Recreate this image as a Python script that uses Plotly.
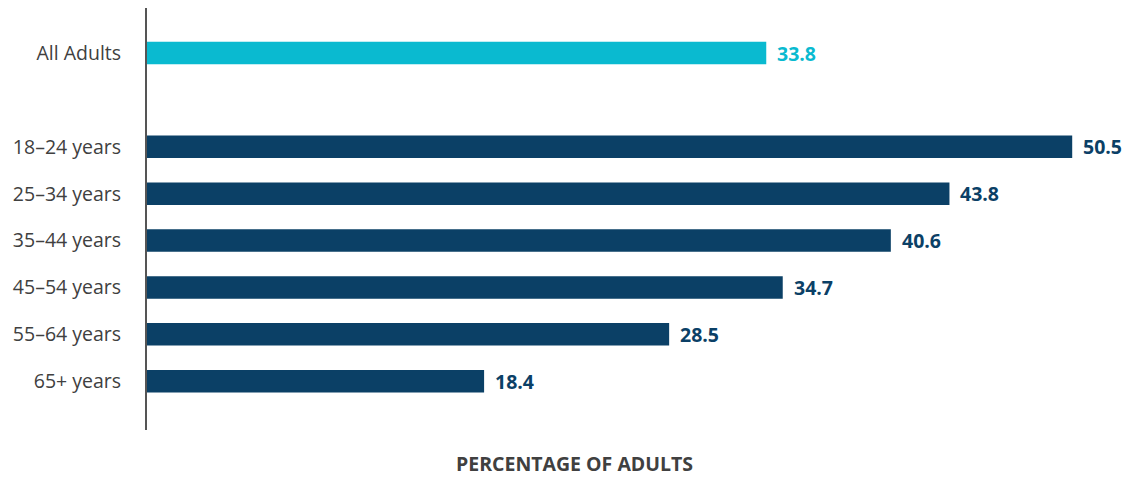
import plotly.graph_objects as go

# Share of adults by age group
categories = ["All Adults", " ", "18–24 years", "25–34 years", "35–44 years",
              "45–54 years", "55–64 years", "65+ years"]
values = [33.8, None, 50.5, 43.8, 40.6, 34.7, 28.5, 18.4]

TEAL = "#0ABAD0"
NAVY = "#0B4066"
bar_colors = [TEAL, TEAL] + [NAVY] * 6

FONT = "Open Sans, sans-serif"

fig = go.Figure(
    go.Bar(
        x=values,
        y=categories,
        orientation="h",
        marker=dict(color=bar_colors, line=dict(width=0)),
        width=0.48,
        hoverinfo="skip",
    )
)

# value labels just past the end of each bar
for cat, val, col in zip(categories, values, bar_colors):
    if val is None:
        continue
    fig.add_annotation(
        x=val, y=cat, text=f"<b>{val:.1f}</b>", showarrow=False,
        xanchor="left", xshift=9,
        font=dict(family=FONT, size=19.5, color=col),
    )

W, H = 1134, 477
L, R, T, B = 147, 5, 8, 47

# axis title, positioned in paper coordinates
fig.add_annotation(
    x=(574 - L) / (W - L - R), y=-(463 - (H - B)) / (H - T - B),
    xref="paper", yref="paper", text="<b>PERCENTAGE OF ADULTS</b>",
    showarrow=False, xanchor="center", yanchor="middle",
    font=dict(family=FONT, size=19.5, color="#404040"),
)

fig.update_layout(
    width=W, height=H,
    margin=dict(l=L, r=R, t=T, b=B),
    plot_bgcolor="white", paper_bgcolor="white",
    showlegend=False,
    font=dict(family=FONT, size=19.5, color="#404040"),
    xaxis=dict(range=[0, 53.6], visible=False, fixedrange=True),
    yaxis=dict(
        range=[8.04, -0.96], showgrid=False, zeroline=False,
        showline=True, linecolor="#555555", linewidth=2,
        ticks="outside", ticklen=20, tickcolor="rgba(0,0,0,0)",
        tickfont=dict(family=FONT, size=19.5, color="#404040"),
        fixedrange=True,
    ),
)

fig.write_html("out.html")
